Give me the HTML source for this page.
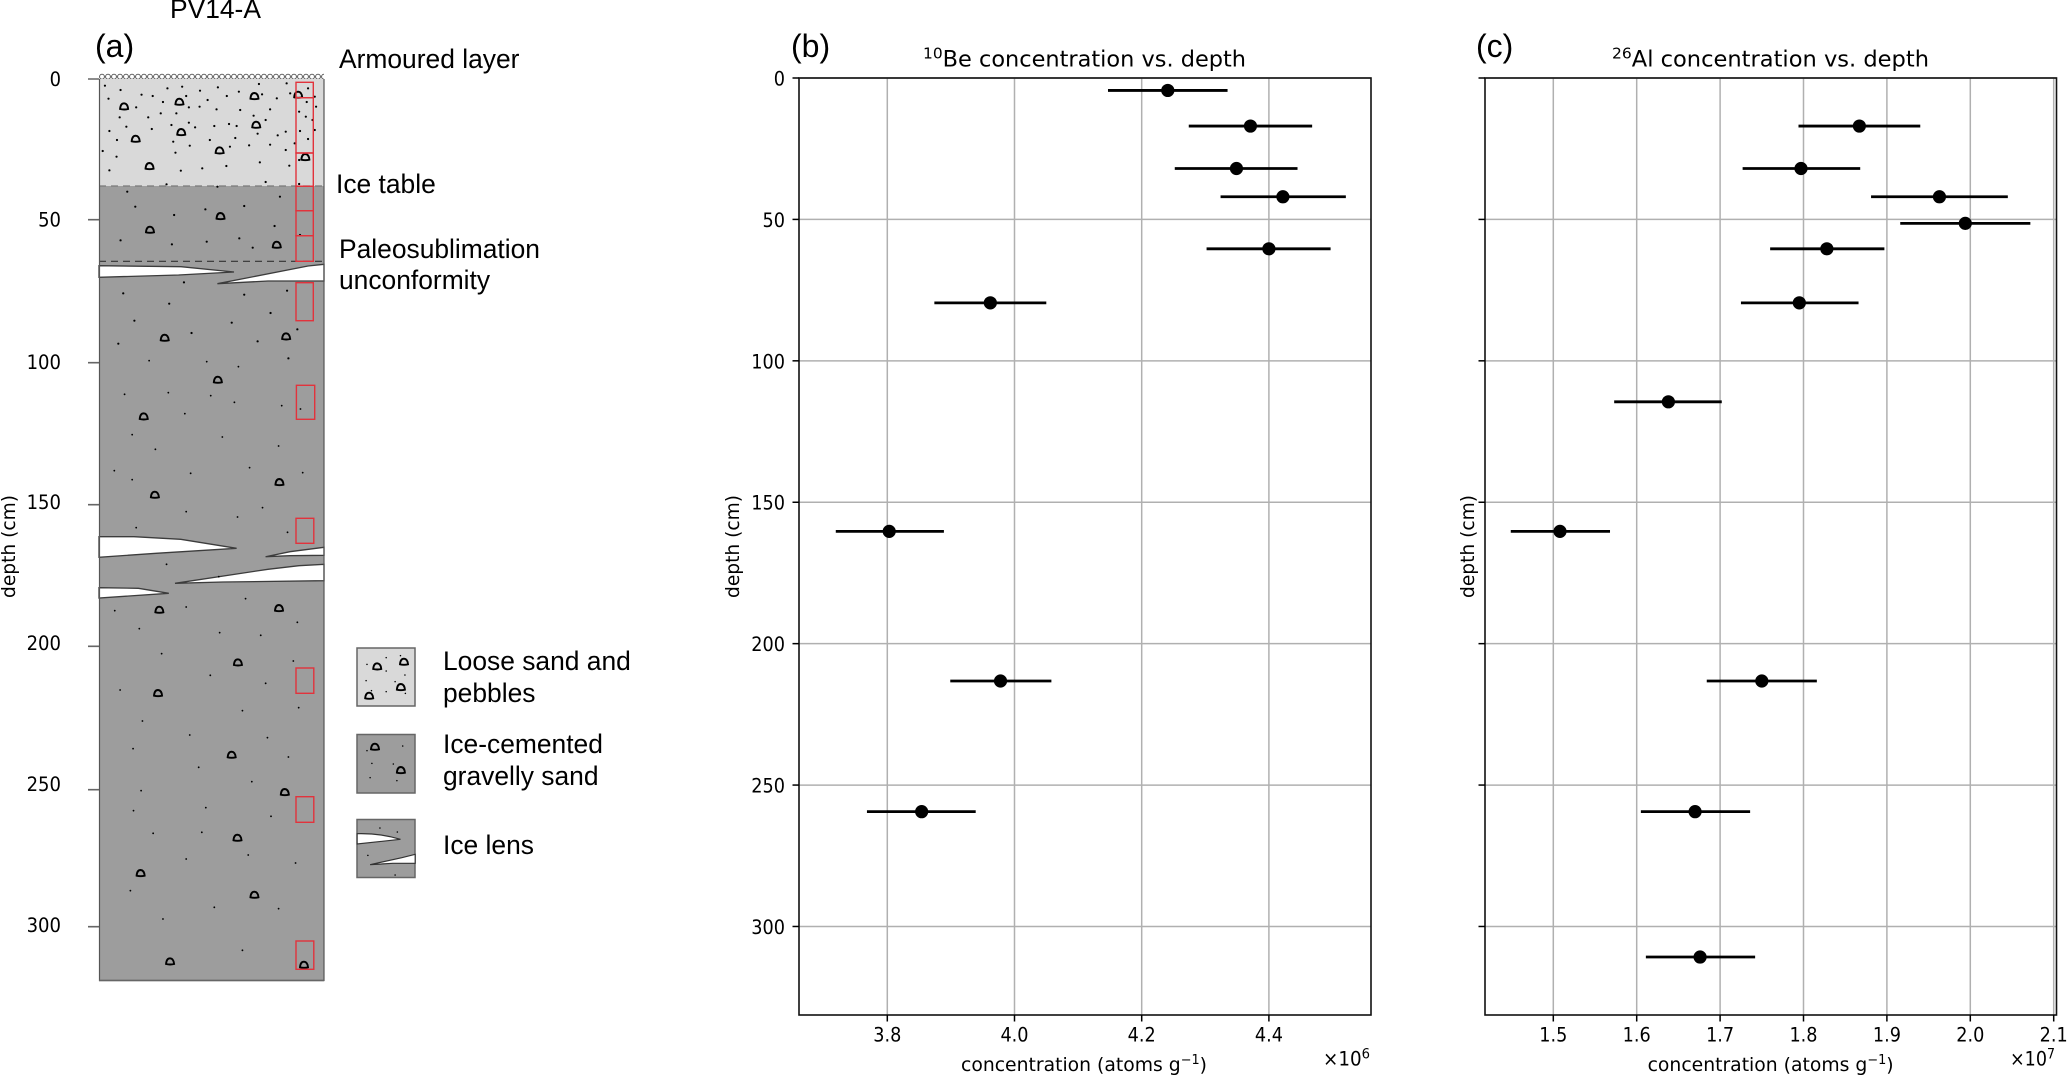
<!DOCTYPE html>
<html lang="en">
<head>
<meta charset="utf-8">
<title>PV14-A depth profile with 10Be and 26Al concentrations</title>
<style>
html,body{margin:0;padding:0;background:#fff;}
svg{display:block;}
.ar{font-family:"Liberation Sans",Arial,sans-serif;fill:#000;}
.dj{font-family:"DejaVu Sans",sans-serif;fill:#000;}
.ns{vector-effect:non-scaling-stroke;}
</style>
</head>
<body>
<svg id="figure" xmlns="http://www.w3.org/2000/svg" width="2067" height="1075" viewBox="0 0 2067 1075">
<defs>
  <path id="peb" class="ns" d="M-9,7 Q-8,-10 0,-10 Q8,-9 9,7 Q0,10 -9,7Z" fill="none" stroke="#000" stroke-width="1.9" vector-effect="non-scaling-stroke"/>
  <pattern id="armour" width="6" height="6" patternUnits="userSpaceOnUse" x="99" y="73.5">
    <ellipse cx="3" cy="3.2" rx="2.4" ry="2.5" fill="#fff" stroke="#444" stroke-width="0.9"/>
  </pattern>
</defs>

<!-- Panel (a): stratigraphic log -->
<g id="panel-a">
  <text class="ar" x="170" y="18" font-size="26.4">PV14-A</text>
  <text class="ar" x="95" y="57" font-size="32">(a)</text>
  <rect x="99" y="73.5" width="225" height="6" fill="url(#armour)"/>
  <rect x="99" y="79" width="225" height="107" fill="#d9d9d9"/>
  <rect x="99" y="186" width="225" height="794.5" fill="#9d9d9d"/>
  <path d="M99,186H324" stroke="#7a7a7a" stroke-width="1.3" stroke-dasharray="7,5"/>
  <path d="M99,261.3H324" stroke="#333" stroke-width="1.2" stroke-dasharray="7,5"/>
  <g fill="#fff" stroke="#3c3c3c" stroke-width="1.3">
    <path d="M99,265.7L181,266.7L234,272L178.6,275L99,277.3Z"/>
    <path d="M324,264.3L308,266L217.4,283.7L268,281L324,281Z"/>
    <path d="M99,536.7L134,536.7L180.8,539.3L236.6,548.3L156,553.3L99,557.3Z"/>
    <path d="M265.6,556.7L290,551.7L324,547.3L324,555.3L290,555.7Z"/>
    <path d="M175,583.3L267.9,569.3L299,565.7L324,564.3L324,580.7L223,582Z"/>
    <path d="M99,587.7L138.4,588.3L168.8,593.3L99,598Z"/>
  </g>
  <g transform="scale(.44643 .33333)">
    <path class="ns" fill="none" stroke="#000" stroke-width="2.2" stroke-linecap="round" d="M235 257h.1M270 270h.1M375 265h.1M408 260h.1M448 272h.1M488 262h.1M535 275h.1M580 252h.1M642 250h.1M705 290h.1M243 296h.1M317 284h.1M342 288h.1M365 306h.1M417 288h.1M465 300h.1M508 288h.1M587 283h.1M620 295h.1M650 280h.1M690 265h.1M708 320h.1M687 306h.1M305 322h.1M423 322h.1M447 320h.1M485 328h.1M538 330h.1M605 328h.1M395 340h.1M268 352h.1M332 352h.1M360 340h.1M568 347h.1M670 335h.1M685 350h.1M700 360h.1M595 360h.1M283 380h.1M384 375h.1M423 368h.1M437 382h.1M480 378h.1M513 372h.1M530 378h.1M245 393h.1M340 387h.1M577 401h.1M622 406h.1M640 395h.1M672 393h.1M705 390h.1M262 420h.1M388 425h.1M425 437h.1M470 420h.1M527 414h.1M605 434h.1M558 436h.1M690 417h.1M660 430h.1M230 453h.1M393 458h.1M261 470h.1M515 440h.1M640 450h.1M582 487h.1M507 498h.1M453 505h.1M405 512h.1M245 511h.1M648 497h.1M670 480h.1M373 553h.1M595 546h.1M670 552h.1M285 575h.1M487 560h.1M627 590h.1M303 620h.1M390 645h.1M460 628h.1M547 618h.1M615 678h.1M270 721h.1M385 733h.1M463 725h.1M536 715h.1M566 743h.1M672 705h.1M412 847h.1M276 880h.1M547 884h.1M643 872h.1M379 911h.1M606 939h.1M301 962h.1M519 968h.1M666 988h.1M429 999h.1M265 1031h.1M577 1024h.1M646 1075h.1"/>
    <g>
      <use href="#peb" x="278" y="320"/><use href="#peb" x="402" y="306"/><use href="#peb" x="570" y="289"/><use href="#peb" x="668" y="285"/><use href="#peb" x="574" y="375"/><use href="#peb" x="406" y="397"/><use href="#peb" x="304" y="417"/><use href="#peb" x="492" y="452"/><use href="#peb" x="684" y="472"/><use href="#peb" x="335" y="499"/><use href="#peb" x="494" y="649"/><use href="#peb" x="336" y="690"/><use href="#peb" x="620" y="735"/><use href="#peb" x="369" y="1014"/><use href="#peb" x="641" y="1010"/>
    </g>
  </g>
  <g transform="translate(0,360) scale(.44643 .33333)">
    <path class="ns" fill="none" stroke="#000" stroke-width="1.8" stroke-linecap="round" d="M334 2h.1M463 5h.1M534 20h.1M279 103h.1M377 98h.1M472 107h.1M525 127h.1M631 137h.1M673 147h.1M414 161h.1M296 224h.1M498 231h.1M624 258h.1M348 268h.1M256 332h.1M427 340h.1M559 323h.1M678 338h.1M296 359h.1M588 443h.1M417 455h.1M532 471h.1M305 503h.1M644 517h.1M373 613h.1M490 650h.1M550 716h.1M257 752h.1M417 741h.1M666 787h.1M312 806h.1M492 818h.1M584 826h.1M362 881h.1M657 903h.1M471 946h.1M595 970h.1M269 990h.1M543 1052h.1M669 1043h.1"/>
    <g>
      <use href="#peb" x="488" y="60"/><use href="#peb" x="322" y="170"/><use href="#peb" x="347" y="405"/><use href="#peb" x="626" y="367"/><use href="#peb" x="357" y="750"/><use href="#peb" x="625" y="745"/><use href="#peb" x="533" y="908"/><use href="#peb" x="354" y="1000"/>
    </g>
  </g>
  <g transform="translate(0,715) scale(.44643 .33333)">
    <path class="ns" fill="none" stroke="#000" stroke-width="1.8" stroke-linecap="round" d="M319 18h.1M425 60h.1M599 68h.1M298 101h.1M646 126h.1M445 157h.1M564 200h.1M316 227h.1M299 287h.1M461 278h.1M607 304h.1M343 355h.1M452 352h.1M556 420h.1M417 432h.1M662 444h.1M292 527h.1M480 577h.1M624 581h.1M365 612h.1M543 706h.1"/>
    <g>
      <use href="#peb" x="519" y="120"/><use href="#peb" x="638" y="232"/><use href="#peb" x="532" y="369"/><use href="#peb" x="315" y="475"/><use href="#peb" x="570" y="540"/><use href="#peb" x="381" y="740"/><use href="#peb" x="681" y="750"/>
    </g>
  </g>
  <path d="M99.5,79V980.5H324V79" fill="none" stroke="#555" stroke-width="1.2"/>
  <path d="M99,980.5H324" stroke="#666" stroke-width="1.6"/>
  <g fill="none" stroke="#e2333c" stroke-width="1.4">
    <rect x="296" y="82.3" width="17.3" height="15.4"/>
    <rect x="296" y="97.7" width="17.3" height="55.3"/>
    <rect x="296" y="153" width="17.3" height="33.3"/>
    <rect x="296" y="186.3" width="17.3" height="24.4"/>
    <rect x="296" y="210.7" width="17.3" height="25"/>
    <rect x="296" y="235.7" width="17.3" height="25.6"/>
    <rect x="296" y="282.7" width="17.3" height="38"/>
    <rect x="296.4" y="385.3" width="18.3" height="34"/>
    <rect x="296" y="518.3" width="17.8" height="25"/>
    <rect x="296" y="668" width="17.8" height="25.3"/>
    <rect x="296" y="796.7" width="17.8" height="25.6"/>
    <rect x="296" y="941" width="17.8" height="28.3"/>
  </g>
  <g stroke="#666" stroke-width="1.6">
    <path d="M88,79H99M88,219.7H99M88,362.7H99M88,504.7H99M88,646.3H99M88,789.7H99M88,926.7H99"/>
  </g>
  <g class="dj" font-size="19.2" text-anchor="end">
    <text class="dj" x="61" y="86" textLength="11.4" lengthAdjust="spacingAndGlyphs">0</text>
    <text class="dj" x="61" y="226.5" textLength="22.9" lengthAdjust="spacingAndGlyphs">50</text>
    <text class="dj" x="61" y="369" textLength="34.4" lengthAdjust="spacingAndGlyphs">100</text>
    <text class="dj" x="61" y="509" textLength="34.4" lengthAdjust="spacingAndGlyphs">150</text>
    <text class="dj" x="61" y="650" textLength="34.4" lengthAdjust="spacingAndGlyphs">200</text>
    <text class="dj" x="61" y="791" textLength="34.4" lengthAdjust="spacingAndGlyphs">250</text>
    <text class="dj" x="61" y="932" textLength="34.4" lengthAdjust="spacingAndGlyphs">300</text>
  </g>
  <text class="dj" font-size="19" transform="translate(15,598) rotate(-90)" textLength="103" lengthAdjust="spacingAndGlyphs">depth (cm)</text>
  <text class="ar" x="339" y="68" font-size="26.4">Armoured layer</text>
  <text class="ar" x="336" y="193" font-size="26.4">Ice table</text>
  <text class="ar" x="339" y="258" font-size="26.4">Paleosublimation</text>
  <text class="ar" x="339" y="289" font-size="26.4">unconformity</text>

  <!-- Legend -->
  <g>
    <rect x="357" y="648" width="58" height="58" fill="#d9d9d9" stroke="#666" stroke-width="1.5"/>
    <rect x="357" y="734.5" width="58" height="58.5" fill="#9d9d9d" stroke="#666" stroke-width="1.5"/>
    <rect x="357" y="819.5" width="58" height="58" fill="#9d9d9d" stroke="#666" stroke-width="1.5"/>
    <g transform="translate(0,360) scale(.44643 .33333)">
      <path class="ns" fill="none" stroke="#000" stroke-width="1.5" stroke-linecap="round" d="M865 893h.1M897 887h.1M822 913h.1M865 933h.1M907 945h.1M820 962h.1M885 965h.1M865 995h.1M908 1000h.1M832 992h.1"/>
      <use href="#peb" x="845" y="920"/><use href="#peb" x="905" y="906"/><use href="#peb" x="898" y="982"/><use href="#peb" x="827" y="1008"/>
    </g>
    <g transform="translate(0,715) scale(.44643 .33333)">
      <path class="ns" fill="none" stroke="#000" stroke-width="1.5" stroke-linecap="round" d="M822 107h.1M902 93h.1M833 145h.1M881 147h.1M829 188h.1M889 197h.1M851 339h.1M890 351h.1M824 421h.1M885 480h.1"/>
      <use href="#peb" x="840" y="96"/><use href="#peb" x="898" y="166"/>
      <path class="ns" fill="#fff" stroke="#333" stroke-width="1.2" d="M800 356Q850 354 897 373L800 387ZM829 449L900 428L930 418V445H880Z"/>
    </g>
    <text class="ar" x="443" y="670" font-size="26.4">Loose sand and</text>
    <text class="ar" x="443" y="702" font-size="26.4">pebbles</text>
    <text class="ar" x="443" y="753" font-size="26.4">Ice-cemented</text>
    <text class="ar" x="443" y="785" font-size="26.4">gravelly sand</text>
    <text class="ar" x="443" y="854" font-size="26.4">Ice lens</text>
  </g>
</g>

<!-- Panel (b) static text -->
<g>
  <text class="ar" x="791" y="57" font-size="32">(b)</text>
  <text class="dj" x="923" y="66.7" font-size="22.5" textLength="323" lengthAdjust="spacingAndGlyphs"><tspan font-size="15.5" dy="-8">10</tspan><tspan dy="8">Be concentration vs. depth</tspan></text>
  <text class="dj" font-size="19" transform="translate(739,598) rotate(-90)" textLength="103" lengthAdjust="spacingAndGlyphs">depth (cm)</text>
  <text class="dj" x="961" y="1071" font-size="19" textLength="246" lengthAdjust="spacingAndGlyphs">concentration (atoms g<tspan font-size="13" dy="-7">−1</tspan><tspan dy="7">)</tspan></text>
  <text class="dj" x="1323" y="1065.5" font-size="19.5" textLength="47" lengthAdjust="spacingAndGlyphs">×10<tspan font-size="14" dy="-7">6</tspan></text>
</g>

<!-- Panel (c) static text -->
<g>
  <text class="ar" x="1476" y="57" font-size="32">(c)</text>
  <text class="dj" x="1612" y="66.7" font-size="22.5" textLength="317" lengthAdjust="spacingAndGlyphs"><tspan font-size="15.5" dy="-8">26</tspan><tspan dy="8">Al concentration vs. depth</tspan></text>
  <text class="dj" font-size="19" transform="translate(1474,598) rotate(-90)" textLength="103" lengthAdjust="spacingAndGlyphs">depth (cm)</text>
  <text class="dj" x="1647.6" y="1071" font-size="19" textLength="246" lengthAdjust="spacingAndGlyphs">concentration (atoms g<tspan font-size="13" dy="-7">−1</tspan><tspan dy="7">)</tspan></text>
  <text class="dj" x="2010" y="1065.5" font-size="19.5" textLength="45" lengthAdjust="spacingAndGlyphs">×10<tspan font-size="14" dy="-7">7</tspan></text>
</g>

<g id="chart-b"></g>
<g id="chart-c"></g>
</svg>

<script>
// Shared depth axis
const depthTicks = [0, 50, 100, 150, 200, 250, 300];

// 10Be concentration (x 10^6 atoms/g)
const beDepths = [4.4, 17, 32, 42, 60.4, 79.5, 160.3, 213.2, 259.4];
const beValues = [4.241, 4.371, 4.349, 4.422, 4.400, 3.962, 3.803, 3.978, 3.854];
const beLow = [4.147, 4.274, 4.252, 4.324, 4.302, 3.874, 3.719, 3.899, 3.768];
const beHigh = [4.335, 4.468, 4.445, 4.521, 4.497, 4.050, 3.889, 4.058, 3.939];
const beTicks = [3.8, 4.0, 4.2, 4.4];

// 26Al concentration (x 10^7 atoms/g)
const alDepths = [17, 32, 42, 51.4, 60.4, 79.5, 114.5, 160.3, 213.2, 259.4, 310.8];
const alValues = [1.867, 1.797, 1.963, 1.994, 1.828, 1.795, 1.638, 1.508, 1.750, 1.670, 1.676];
const alLow = [1.794, 1.727, 1.881, 1.916, 1.760, 1.725, 1.573, 1.449, 1.684, 1.605, 1.611];
const alHigh = [1.940, 1.868, 2.045, 2.072, 1.897, 1.866, 1.702, 1.568, 1.816, 1.736, 1.742];
const alTicks = [1.5, 1.6, 1.7, 1.8, 1.9, 2.0, 2.1];

const SVGNS = 'http://www.w3.org/2000/svg';
const plotTop = 78;
const plotBottom = 1015;
const depthMax = 331.3;
const labelSqueeze = 0.92;

function depthScale(d) {
  return plotTop + (d / depthMax) * (plotBottom - plotTop);
}
function linearScale(d0, d1, r0, r1) {
  return function (v) { return r0 + (v - d0) / (d1 - d0) * (r1 - r0); };
}
function mk(tag, attrs, parent) {
  const el = document.createElementNS(SVGNS, tag);
  for (const k in attrs) el.setAttribute(k, attrs[k]);
  parent.appendChild(el);
  return el;
}
function squeeze(textEl) {
  textEl.setAttribute('textLength', (textEl.getComputedTextLength() * labelSqueeze).toFixed(2));
  textEl.setAttribute('lengthAdjust', 'spacingAndGlyphs');
}

function drawPanel(root, cfg) {
  const xs = cfg.xScale;
  const left = cfg.left, right = cfg.right;

  // grid
  depthTicks.forEach(function (t) {
    const y = depthScale(t);
    const line = mk('line', {x1: left, x2: right, y1: y, y2: y, stroke: '#b0b0b0', 'stroke-width': 1.5}, root);
    
    
  });
  cfg.ticks.forEach(function (t) {
    const x = xs(t);
    const line = mk('line', {x1: x, x2: x, y1: plotTop, y2: plotBottom, stroke: '#b0b0b0', 'stroke-width': 1.5}, root);
    
    
  });

  // error bars and points
  cfg.depths.forEach(function (d, i) {
    const y = depthScale(d);
    const bar = mk('line', {x1: xs(cfg.low[i]), x2: xs(cfg.high[i]), y1: y, y2: y, stroke: '#000', 'stroke-width': 2.8}, root);
    
    
  });
  cfg.depths.forEach(function (d, i) {
    const dot = mk('circle', {cx: xs(cfg.values[i]), cy: depthScale(d), r: 6.6, fill: '#000'}, root);
    
    
  });

  // spines
  const frame = mk('rect', {x: left, y: plotTop, width: right - left, height: plotBottom - plotTop, fill: 'none', stroke: '#111', 'stroke-width': 1.6}, root);
  
  

  // y ticks
  depthTicks.forEach(function (t) {
    const y = depthScale(t);
    const tick = mk('line', {x1: left - 6.5, x2: left, y1: y, y2: y, stroke: '#000', 'stroke-width': 1.5}, root);
    
    
    if (cfg.yLabels) {
      const lab = mk('text', {x: left - 14, y: y + 7.5, 'text-anchor': 'end', 'font-size': 19.2, 'class': 'dj'}, root);
      lab.textContent = String(t);
      
      
      squeeze(lab);
    }
  });

  // x ticks
  cfg.ticks.forEach(function (t) {
    const x = xs(t);
    const tick = mk('line', {x1: x, x2: x, y1: plotBottom, y2: plotBottom + 6.5, stroke: '#000', 'stroke-width': 1.5}, root);
    
    
    const lab = mk('text', {x: x, y: 1041.7, 'text-anchor': 'middle', 'font-size': 19.2, 'class': 'dj'}, root);
    lab.textContent = t.toFixed(1);
    
    
    squeeze(lab);
  });
}

drawPanel(document.getElementById('chart-b'), {
  left: 799, right: 1371,
  xScale: linearScale(3.8, 4.4, 887.3, 1268.9),
  ticks: beTicks, depths: beDepths, values: beValues, low: beLow, high: beHigh, yLabels: true
});
drawPanel(document.getElementById('chart-c'), {
  left: 1485, right: 2056.5,
  xScale: linearScale(1.5, 2.1, 1553.3, 2053.7),
  ticks: alTicks, depths: alDepths, values: alValues, low: alLow, high: alHigh, yLabels: false
});
</script>
</body>
</html>
